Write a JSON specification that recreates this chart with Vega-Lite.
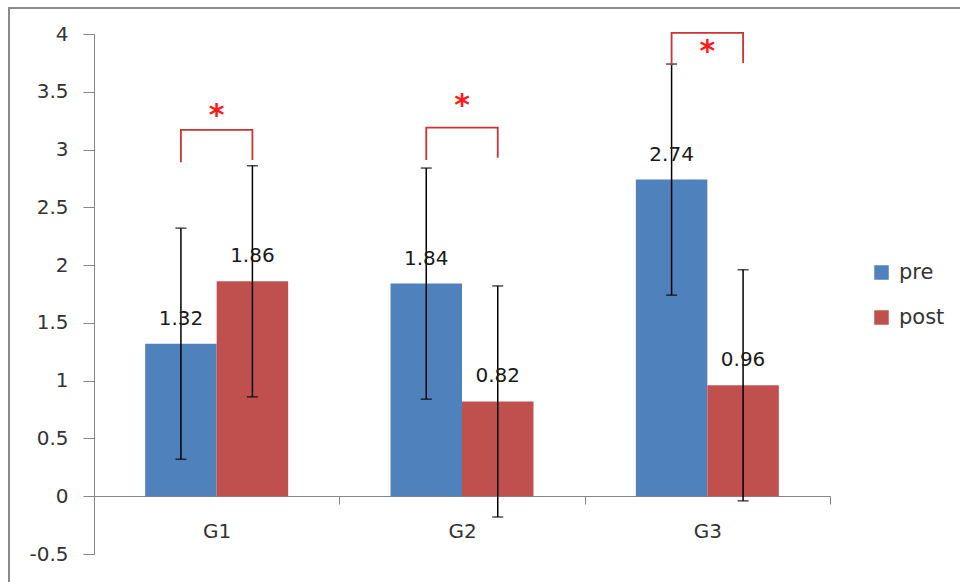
{
  "$schema": "https://vega.github.io/schema/vega-lite/v6.json",
  "width": 955,
  "height": 582,
  "autosize": {"type": "none"},
  "padding": {"left": 9, "top": 8, "right": -4, "bottom": -8},
  "background": "white",
  "config": {
    "view": {"stroke": "#8a8a8a", "strokeWidth": 2, "fill": "white"},
    "font": "DejaVu Sans"
  },
  "datasets": {
    "bars": [
      {"group": "G1", "series": "pre", "value": 1.32, "lo": 0.32, "hi": 2.32},
      {"group": "G1", "series": "post", "value": 1.86, "lo": 0.86, "hi": 2.86},
      {"group": "G2", "series": "pre", "value": 1.84, "lo": 0.84, "hi": 2.84},
      {"group": "G2", "series": "post", "value": 0.82, "lo": -0.18, "hi": 1.82},
      {"group": "G3", "series": "pre", "value": 2.74, "lo": 1.74, "hi": 3.74},
      {"group": "G3", "series": "post", "value": 0.96, "lo": -0.04, "hi": 1.96}
    ],
    "brackets": [
      {"group": "G1", "series": "pre", "y": 2.89, "ord": 1},
      {"group": "G1", "series": "pre", "y": 3.17, "ord": 2},
      {"group": "G1", "series": "post", "y": 3.17, "ord": 3},
      {"group": "G1", "series": "post", "y": 2.91, "ord": 4},
      {"group": "G2", "series": "pre", "y": 2.91, "ord": 1},
      {"group": "G2", "series": "pre", "y": 3.19, "ord": 2},
      {"group": "G2", "series": "post", "y": 3.19, "ord": 3},
      {"group": "G2", "series": "post", "y": 2.93, "ord": 4},
      {"group": "G3", "series": "pre", "y": 3.73, "ord": 1},
      {"group": "G3", "series": "pre", "y": 4.01, "ord": 2},
      {"group": "G3", "series": "post", "y": 4.01, "ord": 3},
      {"group": "G3", "series": "post", "y": 3.75, "ord": 4}
    ],
    "stars": [
      {"group": "G1", "y": 3.33, "label": "*"},
      {"group": "G2", "y": 3.42, "label": "*"},
      {"group": "G3", "y": 3.89, "label": "*"}
    ]
  },
  "encoding": {
    "x": {
      "field": "group",
      "type": "nominal",
      "scale": {"domain": ["G1", "G2", "G3"], "range": [85, 821], "paddingInner": 0, "paddingOuter": 0},
      "axis": {
        "orient": "bottom",
        "offset": -94,
        "title": null,
        "labelAngle": 0,
        "tickBand": "extent",
        "tickSize": 8,
        "tickColor": "#868686",
        "domainColor": "#868686",
        "labelPadding": 17,
        "labelFontSize": 20,
        "labelColor": "#333333",
        "grid": false
      }
    }
  },
  "layer": [
    {
      "data": {"name": "bars"},
      "mark": {"type": "bar"},
      "encoding": {
        "xOffset": {"field": "series", "type": "nominal", "scale": {"domain": ["pre", "post"], "paddingInner": 0, "paddingOuter": 0.716}},
        "y": {
          "field": "value",
          "type": "quantitative",
          "scale": {"domain": [-0.5, 4], "range": [546, 26], "nice": false, "zero": false},
          "axis": {
            "orient": "left",
            "offset": -85,
            "title": null,
            "values": [-0.5, 0, 0.5, 1, 1.5, 2, 2.5, 3, 3.5, 4],
            "labelExpr": "toString(datum.value)",
            "tickSize": 11,
            "tickColor": "#868686",
            "domainColor": "#868686",
            "labelPadding": 15,
            "labelFontSize": 20,
            "labelColor": "#333333",
            "grid": false
          }
        },
        "color": {
          "field": "series",
          "type": "nominal",
          "scale": {"domain": ["pre", "post"], "range": ["#4F81BD", "#C0504D"]},
          "legend": {
            "orient": "none",
            "legendX": 862,
            "legendY": 254,
            "direction": "vertical",
            "title": null,
            "symbolType": "square",
            "symbolSize": 210,
            "symbolStrokeWidth": 0,
            "labelFontSize": 21,
            "labelColor": "#333333",
            "labelOffset": 7,
            "rowPadding": 23
          }
        }
      }
    },
    {
      "data": {"name": "bars"},
      "mark": {"type": "rule", "color": "#000000", "strokeWidth": 1.5},
      "encoding": {
        "xOffset": {"field": "series", "type": "nominal"},
        "y": {"field": "lo", "type": "quantitative"},
        "y2": {"field": "hi"}
      }
    },
    {
      "data": {"name": "bars"},
      "mark": {"type": "tick", "color": "#000000", "size": 11, "thickness": 1.5, "orient": "horizontal"},
      "encoding": {
        "xOffset": {"field": "series", "type": "nominal"},
        "y": {"field": "lo", "type": "quantitative"}
      }
    },
    {
      "data": {"name": "bars"},
      "mark": {"type": "tick", "color": "#000000", "size": 11, "thickness": 1.5, "orient": "horizontal"},
      "encoding": {
        "xOffset": {"field": "series", "type": "nominal"},
        "y": {"field": "hi", "type": "quantitative"}
      }
    },
    {
      "data": {"name": "bars"},
      "mark": {"type": "text", "fontSize": 20, "color": "#1a1a1a", "baseline": "middle", "dy": -25},
      "encoding": {
        "xOffset": {"field": "series", "type": "nominal"},
        "y": {"field": "value", "type": "quantitative"},
        "text": {"field": "value", "type": "quantitative", "format": ".2f"}
      }
    },
    {
      "data": {"name": "brackets"},
      "mark": {"type": "line", "color": "#cc3333", "strokeWidth": 1.8, "interpolate": "linear"},
      "encoding": {
        "xOffset": {"field": "series", "type": "nominal"},
        "y": {"field": "y", "type": "quantitative"},
        "detail": {"field": "group", "type": "nominal"},
        "order": {"field": "ord", "type": "quantitative"}
      }
    },
    {
      "data": {"name": "stars"},
      "mark": {"type": "text", "fontSize": 30, "fontWeight": "bold", "color": "#ff1a1a", "baseline": "middle", "dy": 5},
      "encoding": {
        "y": {"field": "y", "type": "quantitative"},
        "text": {"field": "label", "type": "nominal"}
      }
    }
  ]
}
